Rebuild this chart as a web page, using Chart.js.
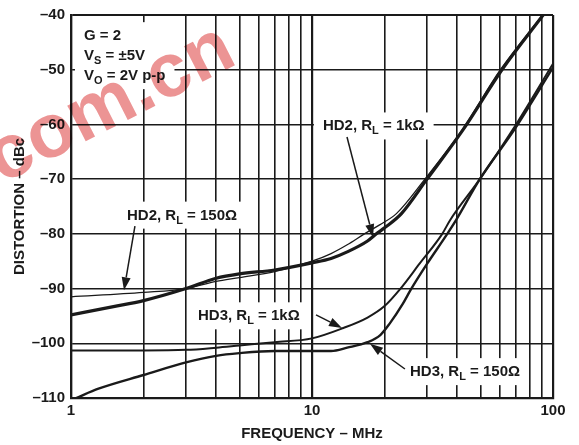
<!DOCTYPE html>
<html>
<head>
<meta charset="utf-8">
<script src="https://cdn.jsdelivr.net/npm/chart.js@4.4.0/dist/chart.umd.min.js"></script>
<style>
    html, body { margin: 0; padding: 0; background: #fff; }
    #wrap { width: 579px; height: 445px; position: relative; }
</style>
</head>
<body>
<div id="wrap"><canvas id="chartDistortion"></canvas></div>
<script>
// Harmonic distortion (dBc) vs frequency (MHz), G = 2
const hd2_150_freq = [1, 1.5, 2, 3, 4, 5, 7, 10, 12, 14, 17, 18.5, 20, 23.5, 30, 42.3, 61.4, 91];
const hd2_150_db = [-94.8, -93.3, -92.2, -90.0, -88.1, -87.3, -86.6, -85.3, -84.5, -83.3, -81.3, -80.0, -78.9, -76.3, -70.0, -61.0, -50.0, -40.0];

const hd2_1k_freq = [1, 2, 3, 4, 5, 7, 10, 12, 14, 16.5, 19, 22.4, 29.4, 42, 60.5, 90.5];
const hd2_1k_db = [-91.5, -90.7, -90.0, -88.7, -88.0, -86.9, -85.0, -83.6, -82.0, -80.0, -78.4, -76.3, -70.0, -61.0, -50.0, -40.0];

const hd3_1k_freq = [1, 2, 3, 4, 5, 7, 10, 13.5, 17, 20, 23.2, 28, 34.6, 37.4, 49.7, 68, 100];
const hd3_1k_db = [-101.3, -101.3, -101.2, -100.8, -100.4, -99.8, -99.1, -97.2, -95.3, -93.2, -90.1, -85.4, -80.1, -77.5, -70.0, -61.0, -48.9];

const hd3_150_freq = [1.05, 1.3, 2, 3, 4, 5, 7, 10, 12, 14, 17, 19.2, 21, 23.8, 25.7, 30, 36.3, 39.6, 49.7, 69, 100];
const hd3_150_db = [-110.0, -108.3, -105.8, -103.5, -102.3, -101.8, -101.4, -101.4, -101.4, -100.8, -99.8, -98.5, -96.4, -92.8, -90.2, -85.5, -80.1, -77.5, -70.0, -61.0, -49.6];

const xGridValues = [1, 2, 3, 4, 5, 6, 7, 8, 9, 10, 20, 30, 40, 50, 60, 70, 80, 90, 100];
const xTickLabels = ['1', '10', '100'];
const yMin = -110;
const yMax = -40;

const FONT = '"Liberation Sans", Arial, Helvetica, sans-serif';
const INK = '#1a1a1a';

function pts(freq, db) {
    return freq.map((f, i) => ({ x: f, y: db[i] }));
}

// text blocks: [text, isSubscript] segments, anchored at (freq, dB) of the first baseline
const notes = [
    { f: 1.132, db: -44.6, step: 20, lines: [
        [['G = 2', 0]],
        [['V', 0], ['S', 1], [' = \u00b15V', 0]],
        [['V', 0], ['O', 1], [' = 2V p-p', 0]]
    ] },
    { f: 11.1, db: -61.1, lines: [[['HD2, R', 0], ['L', 1], [' = 1k\u03a9', 0]]],
      arrow: [13.97, -62.3, 17.91, -80.6] },
    { f: 1.708, db: -77.4, lines: [[['HD2, R', 0], ['L', 1], [' = 150\u03a9', 0]]],
      arrow: [1.842, -78.6, 1.659, -90.3] },
    { f: 3.365, db: -95.8, lines: [[['HD3, R', 0], ['L', 1], [' = 1k\u03a9', 0]]],
      arrow: [10.39, -94.8, 13.32, -97.2] },
    { f: 25.5, db: -106.0, lines: [[['HD3, R', 0], ['L', 1], [' = 150\u03a9', 0]]],
      arrow: [24.3, -104.7, 17.4, -100.1] }
];

const mainFont = 'bold 15px ' + FONT;
const subFont = 'bold 11px ' + FONT;

function lineWidthOf(ctx, segs) {
    let w = 0;
    segs.forEach(s => {
        ctx.font = s[1] ? subFont : mainFont;
        w += ctx.measureText(s[0]).width;
    });
    return w;
}

function noteBox(chart, n) {
    const ctx = chart.ctx;
    const x0 = chart.scales.x.getPixelForValue(n.f);
    const y0 = chart.scales.y.getPixelForValue(n.db);
    const step = n.step || 20;
    let w = 0;
    n.lines.forEach(l => { w = Math.max(w, lineWidthOf(ctx, l)); });
    const last = y0 + step * (n.lines.length - 1);
    return { x: x0 - 9, y: y0 - 18, w: w + 18, h: last - y0 + 27, x0: x0, y0: y0, step: step };
}

function drawArrow(ctx, x1, y1, x2, y2) {
    const ang = Math.atan2(y2 - y1, x2 - x1);
    const len = 13, half = 4.5;
    const bx = x2 - len * Math.cos(ang);
    const by = y2 - len * Math.sin(ang);
    ctx.beginPath();
    ctx.moveTo(x1, y1);
    ctx.lineTo(bx, by);
    ctx.stroke();
    ctx.beginPath();
    ctx.moveTo(x2, y2);
    ctx.lineTo(bx + half * Math.sin(ang), by - half * Math.cos(ang));
    ctx.lineTo(bx - half * Math.sin(ang), by + half * Math.cos(ang));
    ctx.closePath();
    ctx.fill();
}

const notesPlugin = {
    id: 'notes',
    beforeDatasetsDraw(chart) {
        const ctx = chart.ctx;
        ctx.save();
        ctx.fillStyle = '#fff';
        notes.forEach(n => {
            const b = noteBox(chart, n);
            ctx.fillRect(b.x, b.y, b.w, b.h);
        });
        ctx.restore();
    },
    afterDatasetsDraw(chart) {
        const ctx = chart.ctx;
        const xs = chart.scales.x, ys = chart.scales.y;
        ctx.save();
        ctx.fillStyle = INK;
        ctx.strokeStyle = INK;
        ctx.lineWidth = 1.5;
        ctx.textBaseline = 'alphabetic';
        notes.forEach(n => {
            const b = noteBox(chart, n);
            n.lines.forEach((l, i) => {
                let x = b.x0;
                const y = b.y0 + b.step * i;
                l.forEach(s => {
                    ctx.font = s[1] ? subFont : mainFont;
                    ctx.fillText(s[0], x, s[1] ? y + 4 : y);
                    x += ctx.measureText(s[0]).width;
                });
            });
            if (n.arrow) {
                const a = n.arrow;
                drawArrow(ctx, xs.getPixelForValue(a[0]), ys.getPixelForValue(a[1]),
                    xs.getPixelForValue(a[2]), ys.getPixelForValue(a[3]));
            }
        });
        ctx.restore();
    },
    afterDraw(chart) {
        // site stamp across the upper left
        const ctx = chart.ctx;
        ctx.save();
        ctx.globalCompositeOperation = 'multiply';
        ctx.fillStyle = '#ec9494';
        ctx.font = 'bold 76px ' + FONT;
        ctx.translate(2, 184);
        ctx.rotate(-27 * Math.PI / 180);
        ctx.fillText('com.cn', 0, 0);
        ctx.restore();
    }
};

const tickFont = { family: FONT, size: 15, weight: 'bold' };

new Chart(document.getElementById('chartDistortion'), {
    type: 'line',
    data: {
        datasets: [
            { label: 'HD2, RL = 150', data: pts(hd2_150_freq, hd2_150_db), borderWidth: 3.2 },
            { label: 'HD2, RL = 1k', data: pts(hd2_1k_freq, hd2_1k_db), borderWidth: 1.3 },
            { label: 'HD3, RL = 1k', data: pts(hd3_1k_freq, hd3_1k_db), borderWidth: 2 },
            { label: 'HD3, RL = 150', data: pts(hd3_150_freq, hd3_150_db), borderWidth: 2.4 }
        ].map(d => Object.assign(d, {
            borderColor: INK,
            pointRadius: 0,
            fill: false,
            cubicInterpolationMode: 'monotone'
        }))
    },
    options: {
        responsive: true,
        maintainAspectRatio: false,
        animation: false,
        layout: { padding: { top: 15, right: 26, left: 0, bottom: 0 } },
        plugins: {
            legend: { display: false },
            tooltip: { enabled: false }
        },
        scales: {
            x: {
                type: 'logarithmic',
                min: 1,
                max: 100,
                afterBuildTicks: scale => { scale.ticks = xGridValues.map(v => ({ value: v })); },
                afterFit: scale => { scale.height = 47; },
                grid: {
                    color: INK,
                    drawTicks: false,
                    lineWidth: c => (c.tick && [1, 10, 100].includes(c.tick.value) ? 2.2 : 1.6)
                },
                border: { display: true, color: INK, width: 2.2 },
                ticks: {
                    autoSkip: false,
                    maxRotation: 0,
                    padding: 4,
                    color: INK,
                    font: tickFont,
                    callback: v => (xTickLabels.includes(String(v)) ? String(v) : '')
                },
                title: {
                    display: true,
                    text: 'FREQUENCY \u2013 MHz',
                    color: INK,
                    font: tickFont,
                    padding: { top: 0, bottom: 2 }
                }
            },
            y: {
                min: yMin,
                max: yMax,
                afterFit: scale => { scale.width = 71; },
                grid: {
                    color: INK,
                    drawTicks: false,
                    lineWidth: c => (c.tick && (c.tick.value === yMin || c.tick.value === yMax) ? 2 : 1.5)
                },
                border: { display: true, color: INK, width: 2.2 },
                ticks: {
                    stepSize: 10,
                    padding: 6,
                    color: INK,
                    font: tickFont,
                    callback: v => '\u2013' + Math.abs(v)
                },
                title: {
                    display: true,
                    text: 'DISTORTION \u2013 dBc',
                    color: INK,
                    font: tickFont,
                    padding: { top: 11, bottom: 0 }
                }
            }
        }
    },
    plugins: [notesPlugin]
});
</script>
</body>
</html>
